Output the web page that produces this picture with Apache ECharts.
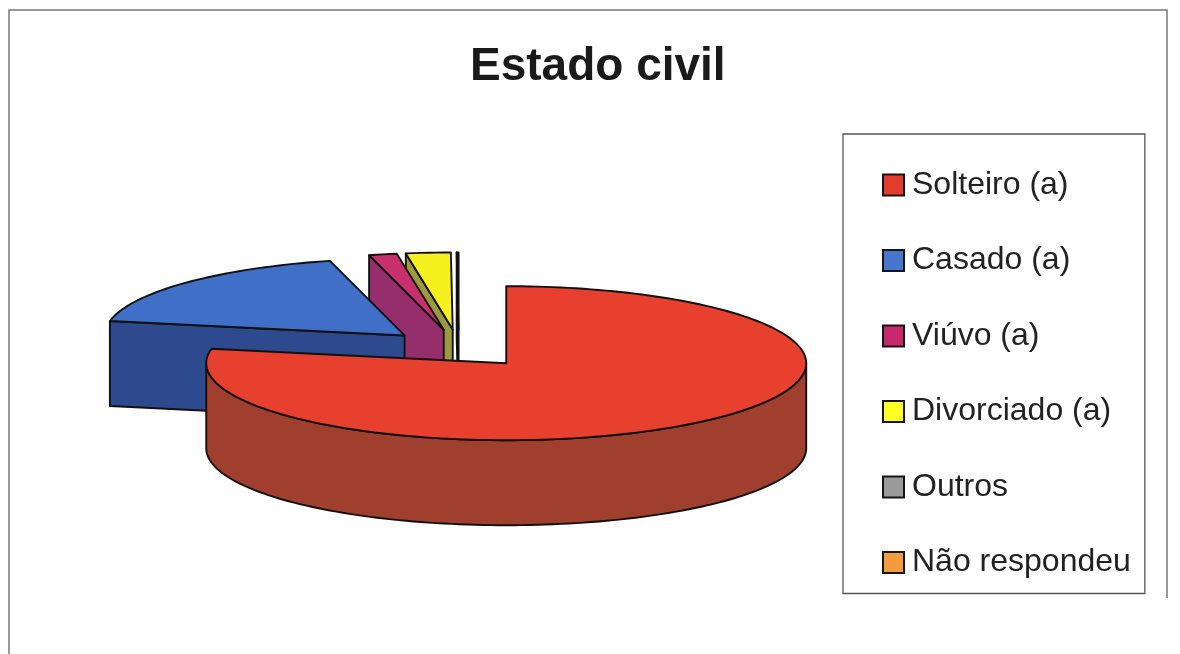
<!DOCTYPE html>
<html>
<head>
<meta charset="utf-8">
<title>Estado civil</title>
<style>
  html, body { margin: 0; padding: 0; background: #ffffff; }
  #chart { width: 1180px; height: 654px; }
</style>
<script src="https://cdn.jsdelivr.net/npm/echarts@6/dist/echarts.min.js"></script>
</head>
<body>
<div id="chart"></div>
<script>
// Marital status shares (%)
const categories = ['Solteiro (a)', 'Casado (a)', 'Viúvo (a)', 'Divorciado (a)', 'Outros', 'Não respondeu'];
const values = [78.0, 18.0, 1.5, 2.4, 0.1, 0];

// Face colours: top face, side walls, legend swatch
const topColors = ['#E8402F', '#3F6FC6', '#C8306E', '#F6F01E', '#9A9A9A', '#F39A3C'];
const wallColors = ['#A13F2E', '#2D4A8E', '#962E6C', '#9C9A3E', '#6E6E6E', '#B86A2A'];
const legendColors = ['#E23C2E', '#4575CC', '#C8286A', '#FFFF22', '#9A9A9A', '#F49B3E'];

// 3D pie geometry (pixels): ellipse radii, wall depth, explode ratio
const PIE = { cx: 458.8, cy: 348.5, rx: 300, ry: 77, depth: 85, explode: 0.248 };
const EDGE = { stroke: '#111111', lineWidth: 1.9, lineJoin: 'round' };

// Angular extent of each slice, clockwise from 12 o'clock
const total = values.reduce((a, b) => a + b, 0);
const slices = [];
let acc = 0;
values.forEach(v => {
  const a0 = acc / total * 360;
  acc += v;
  const a1 = acc / total * 360;
  slices.push({ a0, a1, mid: (a0 + a1) / 2 });
});

const rad = d => d * Math.PI / 180;
function rim(c, deg, z) {
  return [c[0] + PIE.rx * Math.sin(rad(deg)), c[1] - PIE.ry * Math.cos(rad(deg)) + z];
}
function arc(c, a0, a1, z) {
  const n = Math.max(2, Math.ceil((a1 - a0) / 1.5));
  const pts = [];
  for (let k = 0; k <= n; k++) pts.push(rim(c, a0 + (a1 - a0) * k / n, z));
  return pts;
}

function renderSlice(i) {
  const s = slices[i];
  if (s.a1 - s.a0 <= 0) return { type: 'group', children: [] };
  const m = rad(s.mid);
  const c = [PIE.cx + PIE.explode * PIE.rx * Math.sin(m), PIE.cy - PIE.explode * PIE.ry * Math.cos(m)];
  const cb = [c[0], c[1] + PIE.depth];
  const kids = [];
  // curved outer wall, only the part facing the viewer (90°..270°)
  const b0 = Math.max(s.a0, 90), b1 = Math.min(s.a1, 270);
  if (b1 > b0) {
    const top = arc(c, b0, b1, 0);
    const bot = arc(c, b0, b1, PIE.depth).reverse();
    kids.push({ type: 'polygon', z2: 1, shape: { points: top.concat(bot) },
      style: Object.assign({ fill: wallColors[i] }, EDGE) });
  }
  // radial wall at the start angle
  if (Math.sin(rad(s.a0)) < -1e-6) {
    kids.push({ type: 'polygon', z2: 2,
      shape: { points: [c, rim(c, s.a0, 0), rim(c, s.a0, PIE.depth), cb] },
      style: Object.assign({ fill: wallColors[i] }, EDGE) });
  }
  // radial wall at the end angle
  if (Math.sin(rad(s.a1)) > 1e-6) {
    kids.push({ type: 'polygon', z2: 2,
      shape: { points: [c, rim(c, s.a1, 0), rim(c, s.a1, PIE.depth), cb] },
      style: Object.assign({ fill: wallColors[i] }, EDGE) });
  }
  // top face
  kids.push({ type: 'polygon', z2: 3,
    shape: { points: [c].concat(arc(c, s.a0, s.a1, 0)) },
    style: Object.assign({ fill: topColors[i] }, EDGE) });
  return { type: 'group', children: kids };
}

// back slices are painted first
const order = slices.map((s, i) => ({ i, d: -Math.cos(rad(s.mid)) })).sort((a, b) => a.d - b.d);
const depthRank = [];
order.forEach((o, r) => { depthRank[o.i] = r; });

const chart = echarts.init(document.getElementById('chart'), null, { renderer: 'canvas' });
chart.setOption({
  animation: false,
  backgroundColor: '#ffffff',
  title: {
    text: 'Estado civil',
    left: 470,
    top: 44,
    padding: 0,
    textStyle: { fontFamily: 'Liberation Sans, Arial, sans-serif', fontSize: 46, fontWeight: 'bold', color: '#1a1a1a' }
  },
  legend: {
    orient: 'vertical',
    left: 843,
    top: 134,
    padding: [35, 14, 15, 39],
    itemGap: 43.5,
    itemWidth: 21,
    itemHeight: 21,
    icon: 'rect',
    borderColor: '#555555',
    borderWidth: 1.3,
    selectedMode: false,
    itemStyle: { borderColor: '#151515', borderWidth: 2 },
    textStyle: { fontFamily: 'Liberation Sans, Arial, sans-serif', fontSize: 32, lineHeight: 32, color: '#222222', padding: [0, 0, 0, 3] },
    data: categories
  },
  graphic: [{
    type: 'polyline',
    silent: true,
    shape: { points: [[9, 660], [9, 10], [1167, 10], [1167, 598]] },
    style: { fill: null, stroke: '#7a7a7a', lineWidth: 1.5 }
  }],
  series: categories.map((name, i) => ({
    type: 'custom',
    name,
    coordinateSystem: 'none',
    silent: true,
    z: 2 + depthRank[i],
    itemStyle: { color: legendColors[i] },
    data: [values[i]],
    renderItem: () => renderSlice(i)
  }))
});
</script>
</body>
</html>
